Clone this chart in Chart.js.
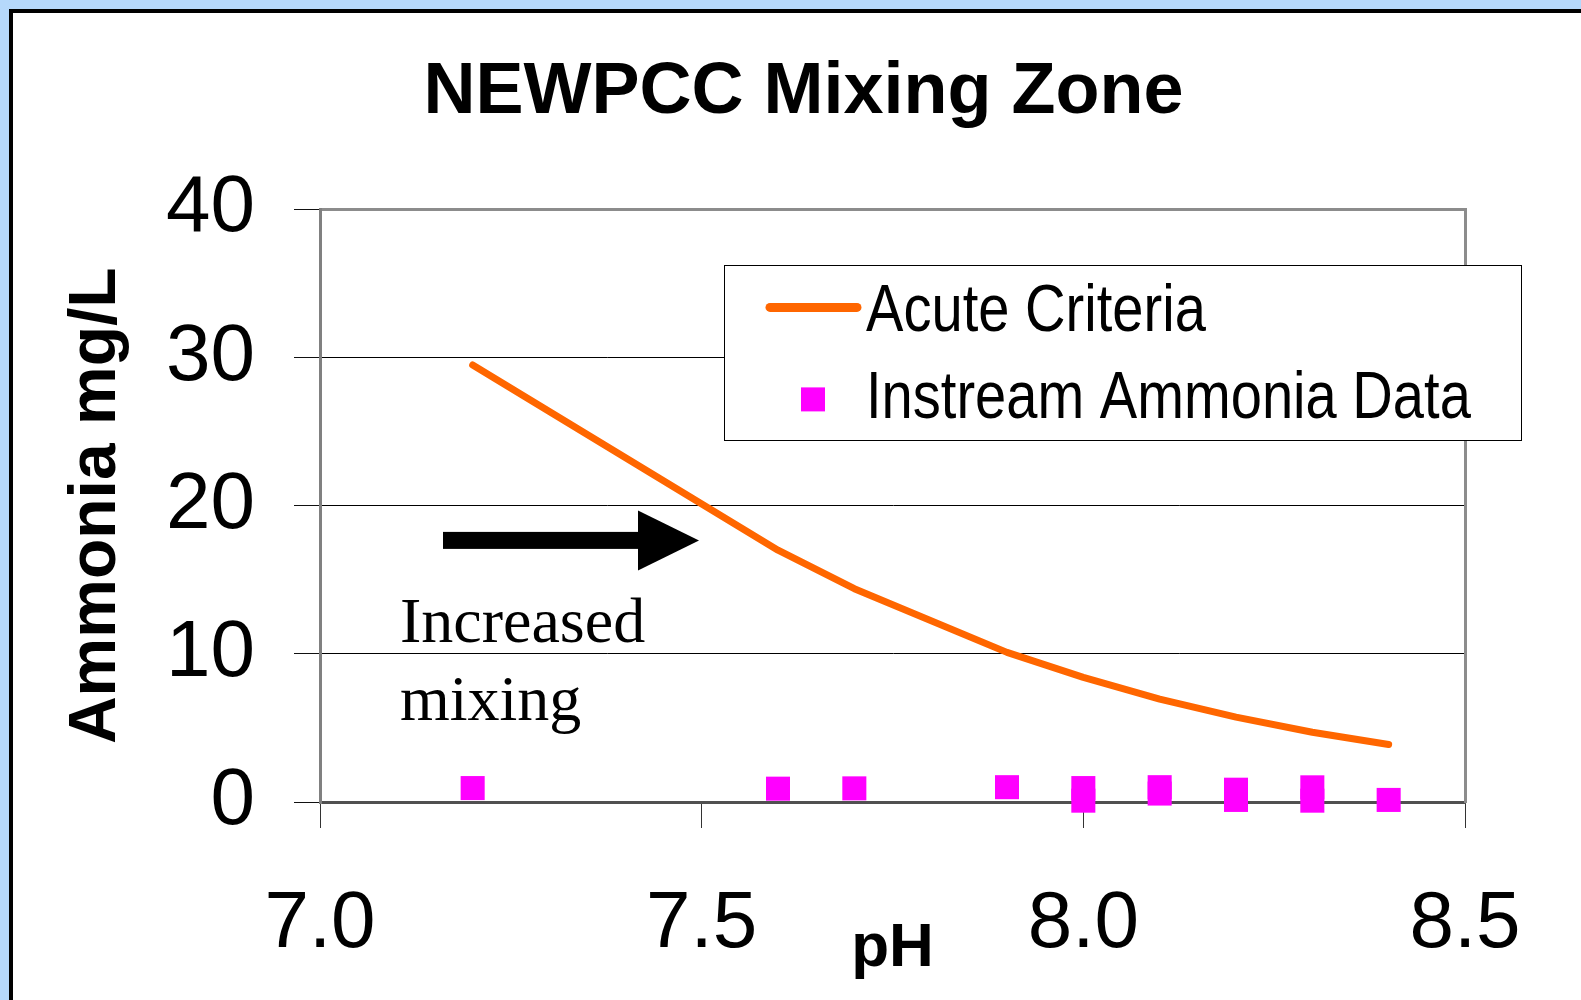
<!DOCTYPE html>
<html>
<head>
<meta charset="utf-8">
<title>NEWPCC Mixing Zone</title>
<script src="https://cdn.jsdelivr.net/npm/chart.js@4.4.1/dist/chart.umd.min.js"></script>
<style>
    html, body { margin: 0; padding: 0; width: 1581px; height: 1000px; overflow: hidden; background: #b5d8fb; }
    #painel { position: absolute; left: 9px; top: 9px; width: 1700px; height: 1100px; background: #fff; border: 4px solid #000; }
    #caixa { position: absolute; left: 0; top: 0; width: 1581px; height: 1000px; }
</style>
</head>
<body>
<div id="painel"></div>
<div id="caixa"><canvas id="graficoAmonia" width="1581" height="1000"></canvas></div>
<script>
// criterio agudo (linha) por pH
const phCriterio = [7.2, 7.6, 7.7, 7.9, 8.0, 8.1, 8.2, 8.3, 8.4];
const criterioAgudo = [29.5, 17.0, 14.4, 10.1, 8.41, 6.95, 5.73, 4.71, 3.88];

// amostras no rio
const phAmostras = [7.2, 7.6, 7.7, 7.9, 8.0, 8.0, 8.1, 8.1, 8.2, 8.2, 8.3, 8.3, 8.4];
const amoniaAmostras = [0.94, 0.9, 0.92, 1.0, 0.94, 0.09, 1.0, 0.57, 0.83, 0.14, 0.99, 0.09, 0.14];

const ticksX = [7.0, 7.5, 8.0, 8.5];
const ticksY = [0, 10, 20, 30, 40];

const tituloGrafico = 'NEWPCC Mixing Zone';
const tituloX = 'pH';
const tituloY = 'Ammonia mg/L';
const notaSeta = ['Increased', 'mixing'];

const SANS = "'Liberation Sans', Arial, sans-serif";
const SERIF = "'Liberation Serif', 'Times New Roman', serif";

// legenda com caixa e a seta com texto, desenhadas por cima
const extras = {
    id: 'extras',
    afterDraw(chart) {
        const ctx = chart.ctx;
        const ca = chart.chartArea;
        const ds = chart.data.datasets;

        // seta
        ctx.save();
        ctx.fillStyle = '#000';
        const sx = ca.left + 123, sy = ca.top + 331;
        ctx.fillRect(sx, sy - 8.5, 195, 17);
        ctx.beginPath();
        ctx.moveTo(sx + 195, sy - 30);
        ctx.lineTo(sx + 256, sy);
        ctx.lineTo(sx + 195, sy + 30);
        ctx.closePath();
        ctx.fill();

        ctx.font = '64px ' + SERIF;
        ctx.textBaseline = 'alphabetic';
        ctx.textAlign = 'left';
        ctx.fillText(notaSeta[0], ca.left + 80, ca.top + 433);
        ctx.fillText(notaSeta[1], ca.left + 80, ca.top + 511);
        ctx.restore();

        // legenda
        ctx.save();
        const lx = ca.right - 741, ly = ca.top + 56;
        ctx.fillStyle = '#fff';
        ctx.fillRect(lx, ly, 797, 175);
        ctx.strokeStyle = '#000';
        ctx.lineWidth = 1;
        ctx.strokeRect(Math.round(lx) + 0.5, Math.round(ly) + 0.5, 797, 175);

        ctx.strokeStyle = ds[0].borderColor;
        ctx.lineWidth = 9;
        ctx.lineCap = 'round';
        ctx.beginPath();
        ctx.moveTo(lx + 46, ly + 42);
        ctx.lineTo(lx + 133, ly + 42);
        ctx.stroke();

        ctx.fillStyle = ds[1].backgroundColor;
        ctx.fillRect(lx + 77, ly + 122, 24, 24);

        ctx.fillStyle = '#000';
        ctx.font = '66px ' + SANS;
        ctx.textBaseline = 'alphabetic';
        ctx.textAlign = 'left';
        const textos = [[ds[0].label, ly + 66], [ds[1].label, ly + 153]];
        textos.forEach(function (t) {
            ctx.save();
            ctx.translate(lx + 142, t[1]);
            ctx.scale(0.85, 1);
            ctx.fillText(t[0], 0, 0);
            ctx.restore();
        });
        ctx.restore();
    }
};

document.addEventListener('DOMContentLoaded', function () {
    try {
        const ctx = document.getElementById('graficoAmonia');
        if (!ctx) {
            console.error('Canvas não encontrado');
            return;
        }

        new Chart(ctx, {
            type: 'scatter',
            data: {
                datasets: [{
                    type: 'line',
                    label: 'Acute Criteria',
                    data: phCriterio.map((x, i) => ({ x: x, y: criterioAgudo[i] })),
                    borderColor: '#ff6600',
                    borderWidth: 7,
                    borderCapStyle: 'round',
                    borderJoinStyle: 'round',
                    pointRadius: 0,
                    tension: 0,
                    fill: false
                }, {
                    label: 'Instream Ammonia Data',
                    data: phAmostras.map((x, i) => ({ x: x, y: amoniaAmostras[i] })),
                    backgroundColor: '#ff00ff',
                    borderWidth: 0,
                    pointStyle: 'rect',
                    pointRadius: 17,
                    pointHoverRadius: 17,
                    clip: false
                }]
            },
            options: {
                responsive: false,
                animation: false,
                devicePixelRatio: 1,
                layout: {
                    padding: { left: 26, top: 0, right: 0, bottom: 0 }
                },
                plugins: {
                    legend: { display: false },
                    tooltip: { enabled: false },
                    title: {
                        display: true,
                        text: tituloGrafico,
                        color: '#000',
                        font: { family: SANS, size: 72, weight: 'bold' },
                        padding: { top: 50, bottom: 73 }
                    }
                },
                scales: {
                    x: {
                        type: 'linear',
                        position: 'bottom',
                        min: 7,
                        max: 8.5,
                        afterBuildTicks: function (s) {
                            s.ticks = ticksX.map(v => ({ value: v }));
                        },
                        afterFit: function (s) {
                            s.height = 198;
                        },
                        ticks: {
                            color: '#000',
                            font: { family: SANS, size: 80 },
                            padding: 49,
                            maxRotation: 0,
                            callback: function (v) {
                                return Number(v).toFixed(1);
                            }
                        },
                        grid: {
                            drawOnChartArea: false,
                            drawTicks: true,
                            tickLength: 26,
                            tickColor: '#333',
                            tickWidth: 1
                        },
                        border: { color: '#505050', width: 3 },
                        title: {
                            display: true,
                            text: tituloX,
                            color: '#000',
                            font: { family: SANS, size: 62, weight: 'bold' },
                            padding: { top: 0, bottom: 14 }
                        }
                    },
                    y: {
                        type: 'linear',
                        position: 'left',
                        min: 0,
                        max: 40,
                        afterBuildTicks: function (s) {
                            s.ticks = ticksY.map(v => ({ value: v }));
                        },
                        afterFit: function (s) {
                            s.width = 294;
                        },
                        ticks: {
                            color: '#000',
                            font: { family: SANS, size: 80 },
                            padding: 39
                        },
                        grid: {
                            color: function (c) {
                                if (!c.tick) return '#000';
                                if (c.tick.value === 40) return '#8c8c8c';
                                if (c.tick.value === 0) return '#505050';
                                return '#000';
                            },
                            lineWidth: function (c) {
                                if (!c.tick) return 1;
                                return (c.tick.value === 40 || c.tick.value === 0) ? 3 : 1;
                            },
                            tickLength: 26,
                            tickColor: '#111',
                            tickWidth: 1
                        },
                        border: { color: '#808080', width: 3 },
                        title: {
                            display: true,
                            text: tituloY,
                            color: '#000',
                            font: { family: SANS, size: 66, weight: 'bold' },
                            padding: { top: 31, bottom: 0 }
                        }
                    },
                    y2: {
                        type: 'linear',
                        position: 'right',
                        min: 0,
                        max: 40,
                        afterFit: function (s) {
                            s.width = 116;
                        },
                        ticks: { display: false },
                        grid: { display: false, drawTicks: false },
                        border: { display: true, color: '#8c8c8c', width: 3 }
                    }
                }
            },
            plugins: [extras]
        });
    } catch (error) {
        console.error('Erro ao criar o gráfico:', error);
    }
});
</script>
</body>
</html>
